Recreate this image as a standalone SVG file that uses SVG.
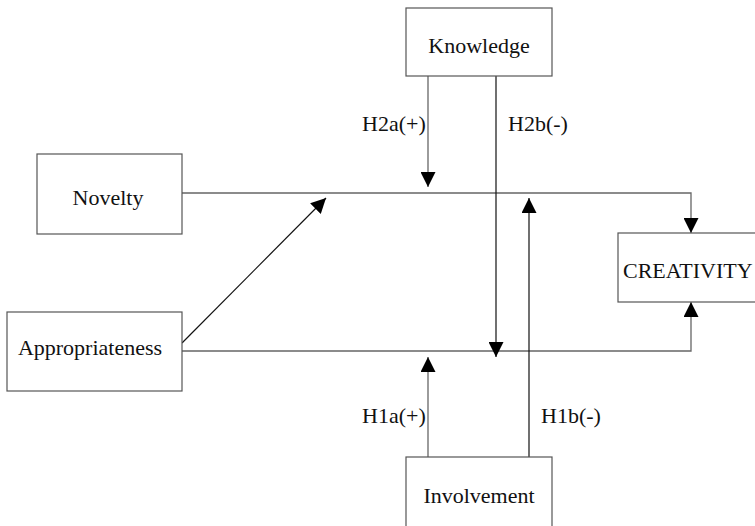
<svg xmlns="http://www.w3.org/2000/svg" width="755" height="526" viewBox="0 0 755 526">
<defs>
<marker id="ah" markerUnits="userSpaceOnUse" markerWidth="15" markerHeight="15" viewBox="0 0 15 15" refX="15" refY="7.5" orient="auto">
<path d="M0,0 L15,7.5 L0,15 z" fill="#000"/>
</marker>
</defs>
<style>
.box{fill:#fff;stroke:#555;stroke-width:1.2}
.t{font-family:"Liberation Serif","Times New Roman",serif;font-size:22px;fill:#111}
.ln{fill:none;stroke:#666;stroke-width:1.3}
.dk{fill:none;stroke:#111;stroke-width:1.2}
</style>
<rect width="755" height="526" fill="#fff"/>
<g id="connectors">
<polyline class="ln" points="182,193 691,193 691,233" marker-end="url(#ah)"/>
<polyline class="ln" points="182,351 691,351 691,302" marker-end="url(#ah)"/>
<line class="dk" x1="182" y1="343" x2="326" y2="198" marker-end="url(#ah)"/>
<line class="ln" x1="428" y1="76" x2="428" y2="187" marker-end="url(#ah)"/>
<line class="dk" x1="496" y1="76" x2="496" y2="357" marker-end="url(#ah)"/>
<line class="ln" x1="428" y1="457" x2="428" y2="357" marker-end="url(#ah)"/>
<line class="dk" x1="529" y1="457" x2="529" y2="198" stroke-width="2" marker-end="url(#ah)"/>
<text class="t" x="362" y="131">H2a(+)</text>
<text class="t" x="508" y="131">H2b(-)</text>
<text class="t" x="362" y="423">H1a(+)</text>
<text class="t" x="541" y="423">H1b(-)</text>
</g>
<g id="knowledge">
<rect class="box" x="406" y="8" width="146" height="68"/>
<text class="t" x="479" y="53" text-anchor="middle">Knowledge</text>
</g>
<g id="novelty">
<rect class="box" x="37" y="154" width="145" height="80"/>
<text class="t" x="108" y="205" text-anchor="middle">Novelty</text>
</g>
<g id="appropriateness">
<rect class="box" x="7" y="312" width="175" height="79"/>
<text class="t" x="90" y="355" text-anchor="middle">Appropriateness</text>
</g>
<g id="creativity">
<rect class="box" x="618" y="233" width="145" height="69"/>
<text class="t" x="623" y="278">CREATIVITY</text>
</g>
<g id="involvement">
<rect class="box" x="406" y="457" width="146" height="80"/>
<text class="t" x="479" y="503" text-anchor="middle">Involvement</text>
</g>
</svg>
